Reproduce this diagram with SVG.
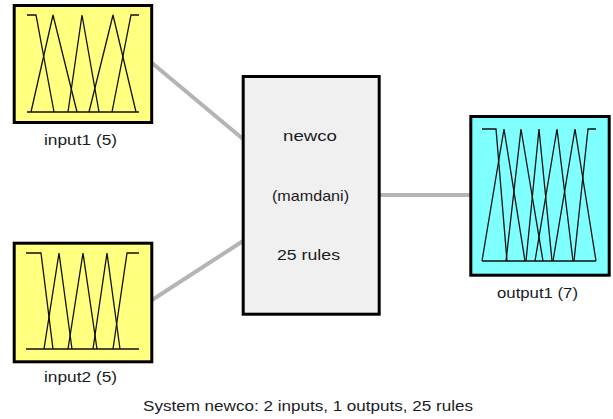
<svg xmlns="http://www.w3.org/2000/svg" width="613" height="419" viewBox="0 0 613 419">
  <style>
    .box { stroke: #000; stroke-width: 3; }
    .in { fill: #ffff80; }
    .out { fill: #80ffff; }
    .sys { fill: #f0f0f0; }
    .mf { fill: none; stroke: #111; stroke-width: 1.3; stroke-linejoin: miter; }
    .wire { stroke: #b4b4b4; stroke-width: 4; stroke-linecap: butt; fill: none; }
    text { font-family: "Liberation Sans", Arial, sans-serif; font-size: 15px; fill: #1a1a24; }
  </style>
  <rect width="613" height="419" fill="#fff"/>

  <!-- wires between the blocks -->
  <g id="connectors">
    <line class="wire" x1="152" y1="63" x2="243" y2="139"/>
    <line class="wire" x1="152" y1="300" x2="243" y2="241"/>
    <line class="wire" x1="380" y1="195" x2="471" y2="195"/>
  </g>

  <!-- first input: five membership functions -->
  <g id="input1">
    <rect class="box in" x="14.2" y="5.5" width="137.5" height="117"/>
    <polyline class="mf" points="27,112 139,112"/>
    <polyline class="mf" points="27,15 36,15 54,112"/>
    <polyline class="mf" points="31,112 53,15 77,112"/>
    <polyline class="mf" points="68,112 82,15 99,112"/>
    <polyline class="mf" points="89,112 113,15 136,112"/>
    <polyline class="mf" points="112,112 131,15 139,15"/>
    <text x="44" y="145" textLength="73" lengthAdjust="spacingAndGlyphs">input1 (5)</text>
  </g>

  <!-- second input: five membership functions -->
  <g id="input2">
    <rect class="box in" x="14.2" y="243.2" width="137.6" height="118.6"/>
    <polyline class="mf" points="26,349 139,349"/>
    <polyline class="mf" points="26,253 41,253 53,349"/>
    <polyline class="mf" points="44,349 59,253 72,349"/>
    <polyline class="mf" points="68,349 83,253 97,349"/>
    <polyline class="mf" points="93,349 107,253 120,349"/>
    <polyline class="mf" points="113,349 127,253 139,253"/>
    <text x="44" y="382" textLength="73" lengthAdjust="spacingAndGlyphs">input2 (5)</text>
  </g>

  <!-- rule block -->
  <g id="newco">
    <rect class="box sys" x="243.2" y="76.5" width="136" height="237.7"/>
    <text x="283" y="141" textLength="54" lengthAdjust="spacingAndGlyphs">newco</text>
    <text x="272" y="201" textLength="77" lengthAdjust="spacingAndGlyphs">(mamdani)</text>
    <text x="277" y="260" textLength="63" lengthAdjust="spacingAndGlyphs">25 rules</text>
  </g>

  <!-- output: seven membership functions -->
  <g id="output1">
    <rect class="box out" x="470.8" y="116.5" width="138.4" height="158.7"/>
    <polyline class="mf" points="482,261 596,261"/>
    <polyline class="mf" points="482,129 496,129 507,261"/>
    <polyline class="mf" points="482,261 504,129 525,261"/>
    <polyline class="mf" points="506,261 521,129 543,261"/>
    <polyline class="mf" points="526,261 539,129 552,261"/>
    <polyline class="mf" points="535,261 557,129 573,261"/>
    <polyline class="mf" points="553,261 575,129 596,261"/>
    <polyline class="mf" points="574,261 588,129 596,129"/>
    <text x="497" y="298" textLength="81" lengthAdjust="spacingAndGlyphs">output1 (7)</text>
  </g>

  <text id="summary" x="143" y="411" textLength="330" lengthAdjust="spacingAndGlyphs">System newco: 2 inputs, 1 outputs, 25 rules</text>
</svg>
